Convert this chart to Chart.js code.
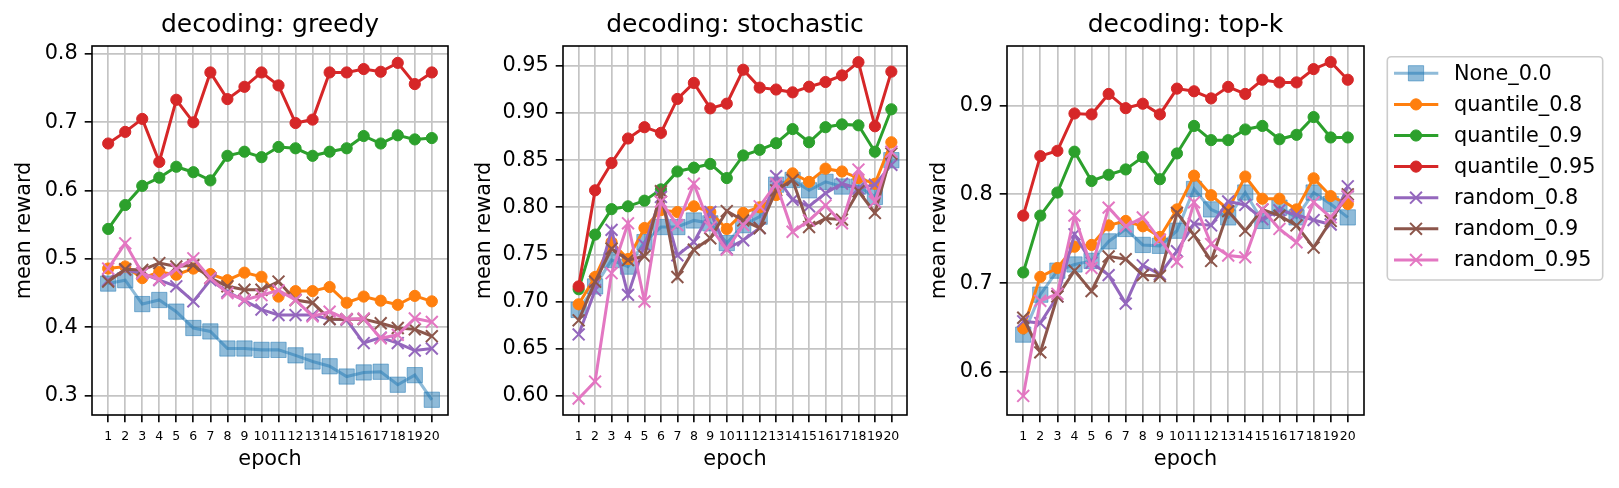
<!DOCTYPE html>
<html><head><meta charset="utf-8">
<script src="https://cdn.jsdelivr.net/npm/chart.js@4.4.0/dist/chart.umd.min.js"></script>
<style>
html,body{margin:0;padding:0;background:#fff;width:1619px;height:488px;overflow:hidden;}
.box{position:absolute;top:0;height:488px;}
</style></head><body>
<div class="box" style="left:12px;width:456px"><canvas id="c1"></canvas></div>
<div class="box" style="left:472px;width:455px"><canvas id="c2"></canvas></div>
<div class="box" style="left:927px;width:692px"><canvas id="c3"></canvas></div>
<script>
// ---------- data ----------
const epochs = [1,2,3,4,5,6,7,8,9,10,11,12,13,14,15,16,17,18,19,20];
const seriesNames = ['None_0.0','quantile_0.8','quantile_0.9','quantile_0.95','random_0.8','random_0.9','random_0.95'];
const panelTitles = ['decoding: greedy','decoding: stochastic','decoding: top-k'];

// greedy
const greedyNone = [0.464,0.469,0.434,0.440,0.423,0.399,0.394,0.369,0.369,0.367,0.367,0.359,0.350,0.343,0.328,0.334,0.335,0.316,0.330,0.294];
const greedyQ08  = [0.486,0.489,0.472,0.481,0.477,0.486,0.478,0.469,0.480,0.474,0.445,0.453,0.453,0.459,0.436,0.445,0.439,0.433,0.446,0.438];
const greedyQ09  = [0.544,0.579,0.607,0.619,0.635,0.627,0.615,0.651,0.657,0.649,0.664,0.662,0.651,0.657,0.662,0.680,0.669,0.681,0.675,0.677];
const greedyQ095 = [0.669,0.686,0.705,0.642,0.733,0.700,0.773,0.734,0.752,0.773,0.754,0.699,0.704,0.773,0.773,0.778,0.774,0.787,0.756,0.773];
const greedyR08  = [0.469,0.484,0.479,0.469,0.460,0.438,0.469,0.452,0.439,0.426,0.418,0.418,0.418,0.412,0.411,0.377,0.385,0.377,0.366,0.369];
const greedyR09  = [0.467,0.485,0.484,0.494,0.489,0.491,0.472,0.460,0.455,0.455,0.467,0.440,0.436,0.412,0.412,0.412,0.406,0.399,0.397,0.387];
const greedyR095 = [0.486,0.523,0.479,0.470,0.485,0.501,0.472,0.450,0.440,0.447,0.454,0.440,0.416,0.423,0.412,0.413,0.384,0.389,0.413,0.408];

// stochastic
const stochNone = [0.691,0.716,0.744,0.737,0.763,0.779,0.779,0.786,0.783,0.762,0.781,0.790,0.824,0.829,0.818,0.827,0.822,0.822,0.811,0.850];
const stochQ08  = [0.697,0.726,0.763,0.745,0.778,0.797,0.795,0.801,0.795,0.777,0.794,0.800,0.813,0.836,0.827,0.841,0.838,0.831,0.825,0.869];
const stochQ09  = [0.713,0.771,0.798,0.801,0.807,0.819,0.838,0.842,0.846,0.831,0.855,0.861,0.868,0.883,0.869,0.885,0.888,0.887,0.859,0.904];
const stochQ095 = [0.716,0.818,0.847,0.873,0.885,0.879,0.915,0.932,0.905,0.910,0.946,0.927,0.925,0.922,0.928,0.933,0.940,0.954,0.886,0.944];
const stochR08  = [0.665,0.712,0.776,0.707,0.760,0.811,0.749,0.763,0.795,0.756,0.765,0.778,0.833,0.808,0.801,0.815,0.825,0.820,0.824,0.845];
const stochR09  = [0.680,0.721,0.756,0.744,0.748,0.817,0.726,0.755,0.767,0.796,0.786,0.778,0.818,0.829,0.779,0.788,0.787,0.817,0.794,0.857];
const stochR095 = [0.597,0.615,0.730,0.783,0.700,0.806,0.781,0.825,0.779,0.755,0.781,0.801,0.825,0.774,0.786,0.802,0.783,0.840,0.806,0.859];

// top-k
const topkNone = [0.642,0.687,0.714,0.721,0.725,0.747,0.761,0.743,0.742,0.759,0.806,0.783,0.774,0.802,0.770,0.785,0.774,0.802,0.789,0.774];
const topkQ08  = [0.649,0.707,0.717,0.741,0.743,0.765,0.770,0.764,0.752,0.783,0.821,0.799,0.783,0.820,0.795,0.795,0.783,0.818,0.798,0.789];
const topkQ09  = [0.712,0.776,0.802,0.848,0.815,0.822,0.828,0.842,0.817,0.846,0.877,0.861,0.861,0.873,0.877,0.862,0.867,0.887,0.864,0.864];
const topkQ095 = [0.776,0.843,0.849,0.891,0.890,0.913,0.897,0.902,0.890,0.919,0.916,0.908,0.921,0.913,0.929,0.926,0.926,0.941,0.949,0.929];
const topkR08  = [0.657,0.655,0.685,0.755,0.723,0.709,0.677,0.720,0.710,0.736,0.767,0.765,0.792,0.788,0.772,0.782,0.777,0.771,0.766,0.809];
const topkR09  = [0.661,0.622,0.685,0.714,0.691,0.730,0.727,0.709,0.708,0.779,0.754,0.725,0.781,0.759,0.783,0.776,0.765,0.740,0.770,0.800];
const topkR095 = [0.573,0.680,0.688,0.776,0.717,0.785,0.764,0.774,0.749,0.724,0.791,0.744,0.731,0.729,0.783,0.761,0.746,0.791,0.774,0.798];

// tick labels
const yTicksGreedy = ['0.3','0.4','0.5','0.6','0.7','0.8'];
const yTicksStoch  = ['0.60','0.65','0.70','0.75','0.80','0.85','0.90','0.95'];
const yTicksTopk   = ['0.6','0.7','0.8','0.9'];
const xTickLabels  = epochs.map(String);

// ---------- styling ----------
const FONT = 'DejaVu Sans';
Chart.defaults.font.family = FONT;
Chart.defaults.color = '#000';
const COLORS = ['rgba(31,119,180,0.5)','#ff7f0e','#2ca02c','#d62728','#9467bd','#8c564b','#e377c2'];

function styleFor(i){
  if (i === 0) return {pointStyle:'rect', pointRadius:10.8, pointBorderWidth:1, borderWidth:3.1};
  if (i <= 3) return {pointStyle:'circle', pointRadius:5.6, pointBorderWidth:1, borderWidth:3};
  return {pointStyle:'crossRot', pointRadius:8.4, pointBorderWidth:2, borderWidth:3};
}

function buildDatasets(values){
  return values.map((vals, i) => {
    const s = styleFor(i);
    return {
      label: seriesNames[i],
      data: vals.map((v, k) => ({x: epochs[k], y: v})),
      borderColor: COLORS[i],
      backgroundColor: COLORS[i],
      pointBackgroundColor: COLORS[i],
      pointBorderColor: COLORS[i],
      borderWidth: s.borderWidth,
      pointStyle: s.pointStyle,
      pointRadius: s.pointRadius,
      pointHoverRadius: s.pointRadius,
      pointBorderWidth: s.pointBorderWidth,
      tension: 0,
      fill: false,
      clip: false,
      order: values.length - i
    };
  });
}

const spinePlugin = {
  id: 'spines',
  afterDraw(chart){
    const a = chart.chartArea, ctx = chart.ctx;
    ctx.save();
    ctx.strokeStyle = '#000';
    ctx.lineWidth = 1.6;
    ctx.strokeRect(a.left, a.top, a.right - a.left, a.bottom - a.top);
    ctx.restore();
  }
};

function drawMarker(ctx, style, r, x, y, color, bw){
  ctx.beginPath();
  const s = r * Math.SQRT1_2;
  if (style === 'circle') ctx.arc(x, y, r, 0, Math.PI * 2);
  else if (style === 'rect') ctx.rect(x - s, y - s, 2 * s, 2 * s);
  else { ctx.moveTo(x - s, y - s); ctx.lineTo(x + s, y + s); ctx.moveTo(x - s, y + s); ctx.lineTo(x + s, y - s); }
  if (style !== 'crossRot') { ctx.fillStyle = color; ctx.fill(); }
  if (bw > 0) { ctx.strokeStyle = color; ctx.lineWidth = bw; ctx.stroke(); }
}

const legendPlugin = {
  id: 'boxLegend',
  afterDraw(chart, args, opts){
    if (!opts || !opts.show) return;
    const ctx = chart.ctx, ox = opts.offsetX;
    ctx.save();
    const x0 = 1387.3 - ox, y0 = 56.7, w = 215.4, h = 223.3;
    ctx.beginPath();
    if (ctx.roundRect) ctx.roundRect(x0, y0, w, h, 4); else ctx.rect(x0, y0, w, h);
    ctx.fillStyle = 'rgba(255,255,255,0.8)';
    ctx.fill();
    ctx.lineWidth = 1.6;
    ctx.strokeStyle = '#cccccc';
    ctx.stroke();
    chart.data.datasets.forEach((ds, i) => {
      const y = 73.3 + i * 31.1;
      ctx.beginPath();
      ctx.moveTo(1394 - ox, y); ctx.lineTo(1438.3 - ox, y);
      ctx.strokeStyle = ds.borderColor; ctx.lineWidth = ds.borderWidth; ctx.stroke();
      drawMarker(ctx, ds.pointStyle, ds.pointRadius, 1416 - ox, y, ds.pointBorderColor, ds.pointBorderWidth);
      ctx.fillStyle = '#000';
      ctx.font = '20.8px "' + FONT + '"';
      ctx.textAlign = 'left';
      ctx.textBaseline = 'middle';
      ctx.fillText(ds.label, 1454 - ox, y + 1);
    });
    ctx.restore();
  }
};

function makeChart(id, title, values, yLabels, yMin, yMax, yWidth, padRight, legend){
  const yVals = yLabels.map(parseFloat);
  return new Chart(document.getElementById(id), {
    type: 'line',
    data: {datasets: buildDatasets(values)},
    plugins: [spinePlugin, legendPlugin],
    options: {
      responsive: true,
      maintainAspectRatio: false,
      animation: false,
      events: [],
      layout: {padding: {left: 0, right: padRight, top: 0, bottom: 0}},
      plugins: {
        legend: {display: false},
        tooltip: {enabled: false},
        title: {display: true, text: title, fullSize: false, color: '#000',
                font: {size: 25, weight: 'normal', family: FONT},
                padding: {top: 10.7, bottom: 5.3}},
        boxLegend: legend
      },
      scales: {
        x: {
          type: 'linear', min: 0.05, max: 20.95,
          afterBuildTicks: s => { s.ticks = epochs.map(v => ({value: v})); },
          afterFit: s => { s.height = 73; },
          ticks: {autoSkip: false, maxRotation: 0, minRotation: 0, padding: 7, color: '#000',
                  font: {size: 12.5, family: FONT},
                  callback: v => xTickLabels[epochs.indexOf(v)]},
          grid: {color: '#c4c4c4', lineWidth: 1.7, drawTicks: true, tickLength: 7.3, tickColor: '#000', tickWidth: 1.6},
          border: {display: false},
          title: {display: true, text: 'epoch', color: '#000', font: {size: 20.8, family: FONT}, padding: {top: 0, bottom: 16}}
        },
        y: {
          type: 'linear', min: yMin, max: yMax,
          afterBuildTicks: s => { s.ticks = yVals.map(v => ({value: v})); },
          afterFit: s => { s.width = yWidth; },
          ticks: {padding: 7, color: '#000', font: {size: 20.8, family: FONT},
                  callback: v => yLabels[yVals.indexOf(v)]},
          grid: {color: '#c4c4c4', lineWidth: 1.7, drawTicks: true, tickLength: 7.3, tickColor: '#000', tickWidth: 1.6},
          border: {display: false},
          title: {display: true, text: 'mean reward', color: '#000', font: {size: 20.8, family: FONT}, padding: {top: 0, bottom: 0}}
        }
      }
    }
  });
}

makeChart('c1', panelTitles[0],
  [greedyNone, greedyQ08, greedyQ09, greedyQ095, greedyR08, greedyR09, greedyR095],
  yTicksGreedy, 0.2717, 0.8117, 80, 20, {show: false});
makeChart('c2', panelTitles[1],
  [stochNone, stochQ08, stochQ09, stochQ095, stochR08, stochR09, stochR095],
  yTicksStoch, 0.5795, 0.9712, 91, 20, {show: false});
makeChart('c3', panelTitles[2],
  [topkNone, topkQ08, topkQ09, topkQ095, topkR08, topkR09, topkR095],
  yTicksTopk, 0.5515, 0.967, 80, 255, {show: true, offsetX: 927});
</script>
</body></html>
